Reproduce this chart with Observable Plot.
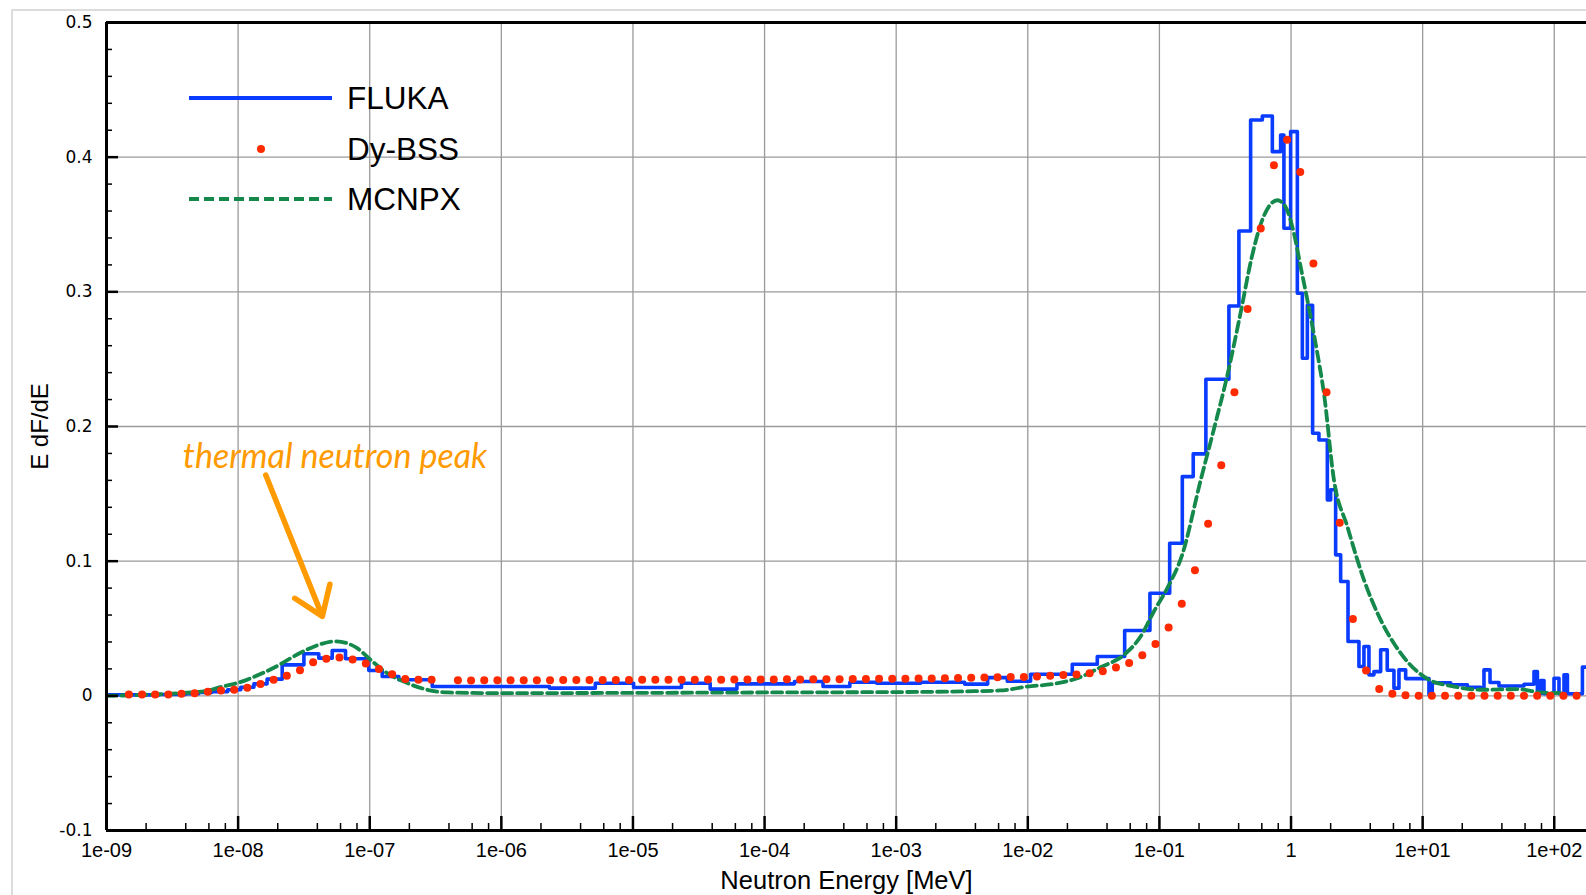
<!DOCTYPE html>
<html><head><meta charset="utf-8">
<script src="https://cdn.jsdelivr.net/npm/d3@7"></script>
<script src="https://cdn.jsdelivr.net/npm/@observablehq/plot@0.6"></script>
<style>
html,body{margin:0;padding:0;background:#fff;overflow:hidden;}
#wrap{position:relative;width:1586px;height:895px;overflow:hidden;}
#frame{position:absolute;left:11px;top:9px;width:1600px;height:900px;border-left:2px solid #dcdcdc;border-top:2px solid #dcdcdc;}
#chart{position:absolute;left:0;top:0;}
#legend{position:absolute;left:0;top:0;}
</style></head>
<body><div id="wrap"><div id="frame"></div><div id="chart"></div><svg id="legend" width="600" height="240"></svg></div>
<script>
// ---- axis ticks ----
const xTickExps = [-9,-8,-7,-6,-5,-4,-3,-2,-1,0,1,2];
const xTickLabels = ["1e-09","1e-08","1e-07","1e-06","1e-05","1e-04","1e-03","1e-02","1e-01","1","1e+01","1e+02"];
const yTicks = [-0.1,0,0.1,0.2,0.3,0.4,0.5];
const yTickLabels = ["-0.1","0","0.1","0.2","0.3","0.4","0.5"];

// ---- FLUKA (histogram: lower bin edge as log10(E/MeV), value) ----
const flukaLogE = [-9,-8.6,-8.4,-8.3,-8.2,-8.08,-7.98,-7.88,-7.78,-7.665,-7.5,-7.387,-7.285,-7.184,-7.007,-6.905,-6.779,-6.525,-5.634,-5.286,-4.995,-4.631,-4.413,-4.21,-3.773,-3.556,-3.352,-3.148,-2.814,-2.48,-2.305,-2.156,-1.979,-1.662,-1.472,-1.264,-1.072,-0.922,-0.826,-0.743,-0.647,-0.472,-0.396,-0.307,-0.218,-0.142,-0.079,-0.054,-0.003,0.048,0.086,0.124,0.164,0.212,0.276,0.301,0.339,0.377,0.433,0.516,0.554,0.592,0.63,0.681,0.731,0.782,0.82,0.871,1.048,1.073,1.213,1.34,1.441,1.466,1.512,1.58,1.77,1.846,1.872,1.897,1.922,1.998,2.036,2.074,2.1,2.214,2.3];
const flukaValues = [0.0007,0.001,0.0015,0.0025,0.003,0.0045,0.0064,0.0089,0.0124,0.023,0.0312,0.028,0.0337,0.0275,0.0188,0.0144,0.0119,0.0069,0.0057,0.0094,0.0062,0.0094,0.005,0.0089,0.0106,0.0069,0.0101,0.0094,0.0101,0.0087,0.0135,0.0108,0.016,0.0235,0.0292,0.0485,0.0762,0.1133,0.1628,0.1797,0.2351,0.2895,0.3452,0.4276,0.4306,0.4041,0.4165,0.3472,0.419,0.299,0.2507,0.29,0.195,0.19,0.1455,0.153,0.1047,0.0849,0.0403,0.0218,0.0366,0.0156,0.018,0.0342,0.019,0.0057,0.0193,0.0128,0.001,0.0097,0.0082,0.0064,0.005,0.0193,0.0099,0.0073,0.0086,0.018,0.0015,0.0114,0.0015,0.0131,0.0015,0.0156,0.0015,0.0213,0.0213];

// ---- MCNPX (smooth curve) ----
const mcnpxLogE = [-9,-8.7,-8.44,-8.235,-8.134,-8.007,-7.83,-7.678,-7.6,-7.526,-7.425,-7.26,-7.17,-7.095,-6.994,-6.867,-6.741,-6.563,-6.41,-6.0,-5.0,-4.0,-3.0,-2.5,-2.207,-2.004,-1.8,-1.624,-1.447,-1.27,-1.143,-1.04,-0.94,-0.826,-0.687,-0.586,-0.484,-0.384,-0.3,-0.231,-0.104,-0.041,0.022,0.073,0.124,0.2,0.25,0.326,0.428,0.554,0.681,0.833,1.048,1.213,1.466,1.72,1.897,2.05];
const mcnpxValues = [0,0.0008,0.002,0.0037,0.0065,0.0095,0.0162,0.0235,0.028,0.032,0.0365,0.0405,0.039,0.0354,0.0267,0.0168,0.0106,0.0045,0.0025,0.002,0.0022,0.0025,0.0028,0.0033,0.004,0.0069,0.0089,0.0131,0.0212,0.0304,0.044,0.063,0.08,0.105,0.16,0.198,0.238,0.284,0.325,0.35,0.368,0.363,0.3435,0.3187,0.294,0.2544,0.2247,0.1604,0.1257,0.0861,0.0564,0.0317,0.0119,0.0074,0.0045,0.005,0.0025,0.002];

// ---- Dy-BSS (points on a 0.1-decade grid starting at log10(E) = -8.83) ----
const bssLogStart = -8.83, bssLogStep = 0.1;
const bssValues = [0.001,0.001,0.001,0.001,0.0015,0.002,0.003,0.004,0.0045,0.006,
  0.0088,0.012,0.015,0.019,0.025,0.0275,0.0285,0.027,0.024,0.02,
  0.016,0.0125,0.012,0.012,null,0.0115,0.0114,0.0115,0.0115,0.0116,
  0.0115,0.0116,0.0116,0.0117,0.0117,0.0118,0.0117,0.0118,0.0118,0.0119,
  0.0119,0.012,0.012,0.012,0.0121,0.012,0.0121,0.0121,0.0122,0.0122,
  0.0123,0.0122,0.0123,0.0124,0.0124,0.0125,0.0125,0.0126,0.0127,0.0127,
  0.0128,0.0129,0.013,0.0132,0.0134,0.0136,0.0138,0.0139,0.014,0.0144,
  0.0149,0.0154,0.0159,0.0168,0.0182,0.021,0.0243,0.0302,0.0384,0.0507,
  0.0683,0.0933,0.1277,0.1712,0.2255,0.2873,0.347,0.394,0.413,0.389,
  0.321,0.2255,0.1285,0.057,0.0188,0.005,0.0015,0.0005,0,0,
  0,0,0,0,0,0,0,0,0,0,
  0,0];

// ---- annotation ----
const annotText = ["thermal neutron peak"];
const annotLogE = [-8.42];
const annotY = [0.177];
const arrowLogE = [-7.79, -7.36];
const arrowY = [0.164, 0.059];

// ---- build ----
const E = e => Math.pow(10, e);
const fluka = flukaLogE.map((e, i) => ({E: E(e), v: flukaValues[i]}));
const mcnpx = mcnpxLogE.map((e, i) => ({E: E(e), v: mcnpxValues[i]}));
const bss = bssValues.map((v, i) => ({E: E(bssLogStart + i * bssLogStep), v}));
const xMajor = xTickExps.map(E);
const labelMap = new Map(xTickExps.map((e, i) => [e, xTickLabels[i]]));
const yLabelMap = new Map(yTicks.map((t, i) => [t.toFixed(1), yTickLabels[i]]));
const xMinor = [];
for (const e of xTickExps) for (const m of [2,4,6,8]) xMinor.push(m * E(e));
const yMinor = [];
for (let k = -5; k <= 25; k++) if (k % 5 !== 0) yMinor.push(k * 0.02);

const W = 1586, H = 895, ML = 106, MT = 22, MB = 65, MR = 0;
const fw = W - ML - MR, fh = H - MT - MB;
const BLUE = "#0a3cff", GREEN = "#15894c", RED = "#ff2a00", ORANGE = "#ff9a00";

const chart = Plot.plot({
  width: W, height: H,
  marginLeft: ML, marginRight: MR, marginTop: MT, marginBottom: MB,
  style: {fontFamily: "Liberation Sans, Arial, sans-serif", background: "transparent", color: "black"},
  x: {type: "log", domain: [1e-9, E(2.245)]},
  y: {domain: [-0.1, 0.5]},
  marks: [
    Plot.ruleX(xMajor, {stroke: "#9a9a9a", strokeWidth: 1.3}),
    Plot.ruleY(yTicks, {stroke: "#9a9a9a", strokeWidth: 1.3}),
    Plot.line(fluka, {x: "E", y: "v", curve: "step-after", stroke: BLUE, strokeWidth: 3.6, clip: true}),
    Plot.line(mcnpx, {x: "E", y: "v", curve: "monotone-x", stroke: GREEN, strokeWidth: 3.8, strokeDasharray: "10,5", clip: true}),
    Plot.dot(bss, {x: "E", y: "v", r: 4, fill: RED, stroke: "none", clip: true}),
    Plot.ruleY([-0.1, 0.5], {stroke: "black", strokeWidth: 3}),
    Plot.ruleX([1e-9], {stroke: "black", strokeWidth: 3}),
    Plot.ruleX(xMajor, {insetTop: fh - 14, stroke: "black", strokeWidth: 2.5}),
    Plot.ruleX(xMinor, {insetTop: fh - 7, stroke: "black", strokeWidth: 1.5}),
    Plot.ruleY(yTicks, {insetRight: fw - 12, stroke: "black", strokeWidth: 2.5}),
    Plot.ruleY(yMinor, {insetRight: fw - 6, stroke: "black", strokeWidth: 1.5}),
    Plot.axisX({ticks: xMajor, tickSize: 0, tickPadding: 12, fontSize: 20, label: null,
      tickFormat: d => labelMap.get(Math.round(Math.log10(d)))}),
    Plot.axisY({ticks: yTicks, tickSize: 0, tickPadding: 14, fontSize: 17, label: null,
      fontFamily: "DejaVu Sans, sans-serif", tickFormat: d => yLabelMap.get((+d).toFixed(1))}),
    Plot.text(["Neutron Energy [MeV]"], {frameAnchor: "bottom", dy: 58, fontSize: 25.5, fill: "black", textAnchor: "middle"}),
    Plot.text(["E dF/dE"], {frameAnchor: "left", dx: -66, rotate: -90, fontSize: 24, fill: "black", textAnchor: "middle"}),
    Plot.text(annotText, {x: (d, i) => E(annotLogE[i]), y: (d, i) => annotY[i], text: d => d,
      textAnchor: "start", fill: ORANGE, fontSize: 34, fontStyle: "italic", fontFamily: "Lato, Open Sans, sans-serif"}),
    Plot.arrow([0], {x1: E(arrowLogE[0]), y1: arrowY[0], x2: E(arrowLogE[1]), y2: arrowY[1],
      stroke: ORANGE, strokeWidth: 5.5, headLength: 9, headAngle: 70})
  ]
});
document.getElementById("chart").appendChild(chart);

// ---- legend ----
const legendItems = ["FLUKA", "Dy-BSS", "MCNPX"];
const lg = d3.select("#legend");
const rows = [98, 149, 199];
lg.append("line").attr("x1", 189).attr("x2", 332).attr("y1", rows[0]).attr("y2", rows[0])
  .attr("stroke", BLUE).attr("stroke-width", 4);
lg.append("circle").attr("cx", 261).attr("cy", rows[1]).attr("r", 4).attr("fill", RED);
lg.append("line").attr("x1", 189).attr("x2", 332).attr("y1", rows[2]).attr("y2", rows[2])
  .attr("stroke", GREEN).attr("stroke-width", 3.8).attr("stroke-dasharray", "10,5");
lg.selectAll("text.l").data(legendItems).join("text").attr("class", "l")
  .attr("x", 347).attr("y", (d, i) => rows[i]).attr("dy", "0.35em")
  .attr("font-family", "Liberation Sans, Arial, sans-serif").attr("font-size", 31.5)
  .attr("fill", "black").text(d => d);
</script></body></html>
